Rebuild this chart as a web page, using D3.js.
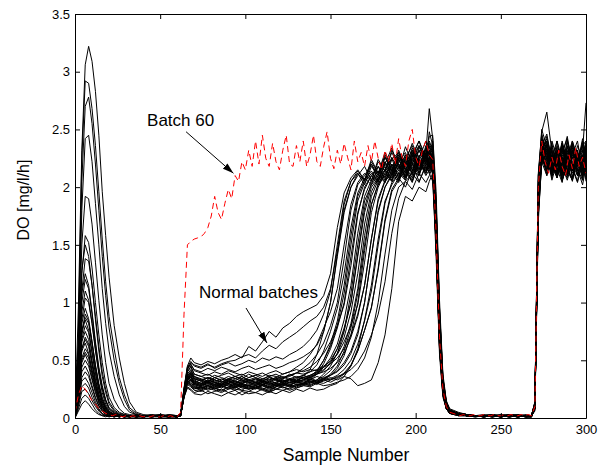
<!DOCTYPE html>
<html><head><meta charset="utf-8">
<script src="https://cdn.jsdelivr.net/npm/d3@7"></script>
<style>
body{margin:0;background:#fff;}
text{font-family:"Liberation Sans",Arial,sans-serif;fill:#000;}
</style>
</head><body>
<svg id="chart" width="599" height="467"></svg>
<script>
// ---------- data (DO values in hundredths of mg/l/h) ----------
const xTicks=[0,50,100,150,200,250,300];
const yTicks=[0,0.5,1,1.5,2,2.5,3,3.5];
const xLabel="Sample Number";
const yLabel="DO [mg/l/h]";

const headSamples=[0,2,4,6,8,10,12,14,16,18,20,23,26,29,32,36,40,45,50,55,60];
const midASamples=[62,64,66,68,70,74,78,82,86,90,94,98,102,106,110,114,118,122,126,130];
const midBSamples=[134,138,142,146,150,154,158,162,166,170,174,178,182,186,190,194,198,202,206];
const dropSamples=[208,210,212,214,216,218,220,225,230,235,240,245,250,255,260,265];
const tailSamples=[268,270,272,274,277,280,283,286,289,292,295,298,300];

const headDO=[
[0,97,232,306,322,309,283,245,196,158,122,80,52,30,14,5,3,2,3,2,1],
[0,75,225,292,290,268,236,196,155,118,88,60,35,20,9,4,2,3,1,2,1],
[0,62,205,270,278,255,220,180,140,106,78,50,30,16,7,3,2,2,1,3,2],
[0,58,180,242,245,222,186,150,112,82,58,36,20,10,5,3,1,2,2,1,2],
[0,50,150,192,190,168,135,102,72,48,30,16,8,4,3,2,1,2,3,2,1],
[0,42,125,158,152,130,100,72,48,30,18,9,5,3,2,3,1,1,2,1,2],
[0,45,128,150,140,115,85,58,36,22,12,6,3,2,2,1,2,2,1,2,1],
[0,38,110,138,136,115,88,62,40,25,14,7,4,3,2,2,1,3,2,1,2],
[0,40,108,125,115,92,66,44,28,16,9,5,3,2,1,2,2,1,2,2,1],
[0,35,92,110,102,82,60,40,25,15,8,4,2,2,1,1,2,2,1,3,2],
[0,30,85,104,100,82,58,38,22,12,6,3,2,2,2,1,1,2,2,1,1],
[0,32,82,95,86,66,45,28,16,9,5,3,2,1,2,2,1,2,1,2,2],
[0,28,75,90,84,66,46,30,18,10,6,3,2,2,1,2,2,1,2,1,1],
[0,30,76,85,76,58,40,25,14,8,4,2,2,1,2,1,2,2,1,2,1],
[0,25,68,80,74,56,38,24,14,8,4,3,2,1,1,2,1,2,2,2,1],
[0,26,66,75,68,50,34,21,12,7,4,2,2,2,1,1,2,1,2,1,2],
[0,22,60,70,64,48,32,20,12,6,3,2,1,2,2,1,2,2,1,1,2],
[0,24,58,65,56,42,28,17,10,5,3,2,2,1,2,2,1,2,1,2,1],
[0,20,52,60,55,40,27,17,10,6,3,2,1,2,1,2,2,1,2,2,1],
[0,20,48,55,48,35,23,14,8,4,2,2,2,1,2,1,1,2,2,1,2],
[0,18,44,50,45,33,22,13,7,4,2,1,2,2,1,2,2,1,1,2,1],
[0,16,40,45,39,28,18,11,6,3,2,2,1,2,2,1,2,2,1,2,2],
[0,14,35,40,36,26,17,10,6,3,2,1,2,1,1,2,1,2,2,1,1],
[0,14,32,35,30,22,14,8,4,2,2,2,1,2,2,1,2,1,2,2,1],
[0,12,27,30,26,18,12,7,4,2,1,2,2,1,2,2,1,2,1,1,2],
[0,10,23,25,21,15,10,6,3,2,2,1,2,2,1,2,2,1,2,2,1],
[0,8,17,20,17,12,7,4,2,2,1,2,1,2,2,1,1,2,2,1,2],
[0,6,12,15,12,8,5,3,2,1,2,1,2,1,2,2,1,2,1,2,2],
[0,22,50,57,52,38,25,15,9,5,3,2,2,1,2,1,2,2,1,2,1],
[0,28,72,87,82,64,44,28,16,9,5,3,1,2,2,1,2,1,2,2,2],
[0,36,100,120,112,90,64,42,26,15,8,4,3,2,2,1,2,2,1,2,1],
[0,24,60,68,62,46,30,18,10,6,3,2,2,1,2,2,1,2,1,2,1]
];
const midADO=[
[2,20,33,36,31,29,32,28,30,33,29,27,31,30,28,32,30,29,33,31],
[3,22,35,33,29,27,25,29,28,26,30,28,25,27,29,26,28,31,27,29],
[2,18,36,40,35,33,31,35,32,30,34,36,32,33,31,35,33,30,34,32],
[3,24,30,28,25,27,24,26,23,27,25,24,28,26,25,23,27,30,28,32],
[2,19,32,38,33,30,28,31,29,32,30,27,29,31,33,30,28,32,29,31],
[3,21,38,42,36,33,35,31,34,32,30,34,33,35,32,31,34,36,33,35],
[2,23,34,31,27,25,28,26,24,27,29,26,25,28,26,24,27,29,31,34],
[2,20,40,45,38,36,34,37,35,33,36,34,38,35,33,37,36,34,38,35],
[3,22,31,34,30,28,31,27,29,30,27,30,28,29,31,28,30,33,31,32],
[2,18,27,25,22,24,21,23,25,22,24,20,23,22,25,23,21,24,22,25],
[2,21,36,35,32,30,33,31,29,33,31,30,32,34,31,33,35,38,40,44],
[3,25,42,48,46,44,47,43,46,48,45,47,50,48,52,50,53,51,55,58],
[2,20,30,33,28,26,29,27,30,28,26,29,27,28,30,27,25,28,29,26],
[2,22,37,39,34,32,35,33,31,34,32,36,33,31,34,33,35,32,34,36],
[3,20,30,29,26,24,27,25,28,26,24,27,25,26,28,25,27,29,28,31],
[2,19,34,37,31,29,32,30,28,31,29,32,30,28,31,29,31,33,30,32],
[3,26,45,52,48,46,49,47,50,52,55,52,62,58,66,75,70,78,82,88],
[2,21,32,30,27,26,28,25,27,29,26,28,26,25,28,26,29,27,25,28],
[2,22,38,41,36,34,32,35,33,36,34,32,35,37,34,36,33,35,37,39],
[3,20,33,35,30,28,31,29,27,30,32,29,28,31,29,27,30,28,31,29],
[3,24,44,49,45,43,46,44,47,49,50,53,55,52,58,63,60,66,70,74],
[2,19,29,27,24,23,26,24,22,25,27,24,23,26,24,22,25,27,24,26],
[2,20,35,38,34,32,30,33,31,34,32,30,33,31,29,32,34,31,33,30],
[2,23,36,33,30,28,31,29,32,30,28,31,33,30,32,29,31,34,36,39],
[3,22,40,44,38,36,38,35,37,39,36,38,35,37,39,36,38,35,37,39],
[2,18,31,33,29,27,30,28,26,29,27,30,28,26,29,31,28,30,27,29],
[3,25,44,46,42,40,43,41,44,42,40,43,45,42,44,46,43,45,48,50],
[2,20,31,29,26,25,28,26,28,25,27,29,26,28,25,27,29,26,28,27],
[2,21,36,39,34,32,35,33,31,34,36,33,31,34,32,35,33,31,34,32],
[2,18,26,24,21,20,23,21,19,22,20,23,21,22,20,23,25,24,26,28],
[3,23,42,47,41,39,37,40,38,41,39,37,40,38,36,39,41,38,40,42],
[2,21,34,36,32,30,33,31,29,32,30,33,31,29,32,30,33,31,34,33]
];
const midBDO=[
[30,32,31,34,38,45,58,78,108,150,185,203,212,205,218,210,225,215,228],
[30,33,38,47,60,78,100,140,178,198,210,202,215,225,208,220,232,218,226],
[35,33,36,34,37,40,46,56,72,100,140,178,200,212,204,222,212,235,220],
[36,42,55,75,100,142,180,200,212,205,220,210,226,214,230,218,208,225,215],
[30,32,29,33,31,34,38,45,58,76,95,130,172,198,208,200,215,222,210],
[34,36,38,41,48,60,78,100,140,178,200,208,218,206,224,215,230,212,222],
[37,40,46,58,75,95,125,165,195,208,202,218,208,226,214,235,220,210,228],
[37,35,38,40,43,48,56,70,88,115,155,188,205,212,220,208,226,240,222],
[33,35,38,44,52,64,85,115,160,192,206,214,204,220,212,228,216,232,220],
[23,26,24,25,28,30,36,45,60,85,115,155,188,202,212,206,222,212,230],
[48,55,64,78,92,112,150,185,204,212,205,222,214,230,218,206,224,215,236],
[62,68,76,90,110,150,188,205,212,202,218,210,228,215,206,225,236,220,232],
[28,27,30,28,29,31,33,36,42,52,70,100,142,180,200,205,198,212,204],
[35,37,39,42,47,56,70,92,125,168,196,208,215,208,222,230,214,225,240],
[33,36,41,50,62,80,108,150,188,204,212,205,222,212,228,214,204,222,214],
[31,33,32,35,37,41,48,58,75,100,140,180,200,210,220,212,232,218,226],
[92,95,98,106,125,165,195,208,215,206,222,212,230,218,225,208,220,232,218],
[29,28,31,33,37,43,54,72,100,145,185,202,210,220,208,226,215,210,230],
[41,44,49,56,66,80,98,132,176,200,210,218,206,224,230,216,222,236,224],
[30,29,31,30,33,35,39,46,58,76,96,128,170,196,206,215,205,222,212],
[79,84,88,96,112,145,185,205,214,206,224,212,220,234,216,228,210,226,232],
[28,30,33,38,45,56,75,108,150,188,202,210,204,218,210,224,212,228,216],
[32,34,31,33,35,33,36,34,28,30,33,48,72,112,170,192,188,200,196],
[43,48,55,65,80,100,138,180,202,210,220,206,226,214,232,218,228,212,234],
[38,40,42,45,49,55,66,80,98,135,178,200,212,218,205,222,238,224,212],
[29,31,30,32,34,37,42,50,64,84,110,150,186,204,212,208,220,205,218],
[53,57,63,75,100,140,178,200,210,218,206,224,214,232,220,210,228,240,226],
[29,31,33,36,41,49,62,82,112,158,192,206,214,205,224,212,230,216,224],
[33,35,32,34,33,36,38,42,48,58,72,90,118,160,190,205,212,204,220],
[30,34,40,50,64,84,115,158,192,206,214,204,220,210,226,216,206,224,212],
[40,42,41,44,47,52,60,72,90,115,155,190,206,214,220,208,226,236,222],
[35,37,40,44,50,60,76,100,142,182,204,212,222,210,228,218,234,220,230]
];
const dropDO=[
[222,215,160,70,25,10,5,3,2,2,1,2,3,2,1,2],
[218,226,175,85,30,12,6,4,3,2,2,3,1,2,2,1],
[230,218,150,60,20,8,4,3,2,1,2,2,1,3,2,2],
[226,210,140,55,18,8,4,2,2,2,1,2,2,1,2,3],
[215,222,165,75,28,12,5,3,2,2,2,1,2,2,3,1],
[232,225,170,80,28,11,6,4,3,2,1,2,2,3,2,2],
[218,212,155,65,22,9,4,3,2,2,2,1,3,2,1,2],
[238,230,180,90,32,13,6,4,2,2,3,2,1,2,2,1],
[225,218,160,70,24,9,5,3,2,1,2,2,2,1,2,2],
[212,220,150,62,22,9,4,2,2,2,1,2,2,2,1,2],
[220,228,170,78,27,11,5,3,2,2,2,3,2,1,2,1],
[228,240,185,95,35,14,7,4,3,2,2,2,1,2,3,2],
[210,218,160,72,25,10,5,3,2,2,1,2,2,2,1,2],
[235,220,165,72,26,10,5,3,2,2,2,1,2,3,2,1],
[222,214,150,60,20,8,4,3,2,2,2,2,1,2,2,2],
[240,232,178,85,30,12,6,3,2,2,2,2,2,1,2,2],
[226,236,182,92,34,14,7,4,3,2,2,2,1,3,2,2],
[216,225,160,70,24,10,5,3,2,2,1,2,2,2,2,1],
[232,222,168,76,27,11,6,3,2,2,2,2,1,2,2,2],
[225,230,172,80,28,11,5,3,2,2,2,1,2,2,1,2],
[236,228,175,85,30,12,6,4,2,2,2,2,2,1,2,2],
[214,220,158,68,23,9,4,3,2,1,2,2,2,2,1,2],
[205,212,150,65,22,9,4,3,2,2,2,1,2,2,2,1],
[228,218,162,70,24,10,5,3,2,2,1,2,2,1,2,2],
[222,232,178,86,31,12,6,4,3,2,2,2,1,2,2,2],
[212,205,148,60,20,8,4,2,2,2,2,1,2,2,1,2],
[244,245,196,102,38,15,8,5,3,2,2,3,2,2,1,2],
[218,226,162,72,25,10,5,3,2,2,2,2,1,2,2,1],
[218,214,155,66,23,9,5,3,2,2,1,2,2,2,2,1],
[220,214,152,62,21,8,4,3,2,2,2,2,2,1,2,2],
[248,236,185,92,33,13,7,4,3,2,2,2,2,2,1,2],
[268,242,188,96,35,14,7,4,3,2,2,2,1,2,2,2]
];
const tailDO=[
[2,8,185,232,225,210,228,205,235,215,222,208,230],
[1,12,200,240,218,228,212,238,220,205,225,215,212],
[2,6,170,225,240,218,208,226,214,232,210,228,218],
[2,10,190,228,212,235,220,206,218,238,212,224,205],
[1,9,195,220,236,215,225,210,230,218,205,232,222],
[2,11,182,245,222,212,230,218,240,208,226,214,236],
[2,7,178,235,228,206,222,235,212,228,218,240,226],
[2,13,205,228,215,240,225,212,232,208,222,236,240],
[1,8,188,230,244,220,210,228,216,206,230,212,224],
[2,9,175,222,230,208,232,214,224,236,210,220,215],
[2,10,192,236,218,226,240,216,208,225,232,206,228],
[2,14,210,242,232,214,226,208,220,240,226,210,232],
[1,10,180,226,214,232,208,222,210,226,216,202,218],
[2,12,196,238,226,218,212,230,242,218,228,216,226],
[2,8,184,232,240,216,224,212,236,220,210,226,212],
[2,11,190,228,210,232,218,240,222,214,236,224,218],
[2,13,205,250,235,222,210,228,244,218,230,220,238],
[1,9,186,224,236,212,226,206,218,232,214,228,210],
[2,10,194,234,220,238,214,226,210,230,222,238,214],
[2,8,180,228,216,224,208,234,220,212,228,218,208],
[2,12,198,238,224,216,236,222,212,234,218,228,222],
[2,9,182,226,238,210,220,232,214,206,224,236,220],
[1,10,188,222,210,228,216,204,226,214,232,210,224],
[2,11,192,240,228,215,232,224,210,238,216,206,232],
[2,12,200,232,242,226,212,236,220,228,240,214,230],
[2,8,176,220,232,212,226,218,206,222,230,212,220],
[2,14,210,246,230,218,240,224,212,232,220,242,228],
[2,9,186,232,218,226,210,236,222,214,226,218,234],
[1,9,184,226,214,222,234,210,226,216,204,222,240],
[2,8,180,225,236,212,222,238,214,208,226,232,214],
[2,12,202,236,246,222,230,214,240,226,218,232,273],
[2,13,212,248,265,230,218,236,226,240,222,236,228]
];
// Batch 60 (red dashed), one value every 2 samples from 0 to 300
const batch60DO=[
5,20,28,25,20,15,12,8,6,4,3,2,3,2,1,2,1,2,1,2,1,2,1,2,1,1,2,1,2,1,1,
5,90,150,153,155,156,157,160,165,175,192,178,172,186,198,190,210,205,222,215,
232,218,240,220,245,225,218,238,222,215,
232,245,220,218,236,222,240,218,228,245,
222,218,235,248,225,216,232,220,238,226,
215,240,222,230,218,236,222,240,225,215,
232,222,238,220,242,226,218,240,250,226,
218,232,240,228,224,
160,70,25,10,5,
4,3,2,3,2,2,3,2,2,3,2,2,3,2,2,3,2,3,2,2,3,2,3,2,
10,200,240,222,212,226,215,232,218,210,228,216,234,218,226,212
];
const batch60Samples=d3.range(0,301,2);

// annotations (data coordinates)
const annBatch60={text:"Batch 60",tx:42.3,ty:2.53,from:[65.2,2.48],to:[93,2.12]};
const annNormal={text:"Normal batches",tx:72.8,ty:1.04,from:[100.4,0.953],to:[112.7,0.65]};

// ---------- chart ----------
const W=599,H=467,m={l:75,r:13,t:14,b:49};
const svg=d3.select("#chart");
const x=d3.scaleLinear().domain([0,300]).range([m.l,W-m.r]);
const y=d3.scaleLinear().domain([0,3.5]).range([H-m.b,m.t]);

svg.append("defs").append("clipPath").attr("id","clip")
  .append("rect").attr("x",m.l).attr("y",m.t).attr("width",W-m.l-m.r).attr("height",H-m.t-m.b);
const defs=svg.select("defs");
defs.append("marker").attr("id","arrow").attr("markerUnits","userSpaceOnUse")
  .attr("markerWidth",12).attr("markerHeight",8).attr("refX",11).attr("refY",4)
  .attr("orient","auto")
  .append("path").attr("d","M0,0.5 L11,4 L0,7.5 Z").attr("fill","#000");

const segs=[[headSamples,headDO],[midASamples,midADO],[midBSamples,midBDO],[dropSamples,dropDO],[tailSamples,tailDO]];
const batches=headDO.map((_,i)=>{
  const pts=[];
  segs.forEach(([xs,rows])=>{
    const r=rows[i];
    for(let k=0;k<Math.min(xs.length,r.length);k++) pts.push([xs[k],r[k]/100]);
  });
  return pts;
});
const red=batch60Samples.slice(0,batch60DO.length).map((s,i)=>[s,batch60DO[i]/100]);

const line=d3.line().x(d=>x(d[0])).y(d=>y(d[1]));
const g=svg.append("g").attr("clip-path","url(#clip)");
g.selectAll("path.batch").data(batches).join("path").attr("class","batch")
  .attr("d",line).attr("fill","none").attr("stroke","#000").attr("stroke-width",1);
g.append("path").datum(red).attr("d",line).attr("fill","none")
  .attr("stroke","#ff0000").attr("stroke-width",1).attr("stroke-dasharray","6,4");

// axes (box with inward ticks)
const fmt=d=>String(d);
const ax=[
  svg.append("g").attr("transform",`translate(0,${H-m.b})`).call(d3.axisBottom(x).tickValues(xTicks).tickFormat(fmt).tickSize(-5).tickSizeOuter(0).tickPadding(7)),
  svg.append("g").attr("transform",`translate(${m.l},0)`).call(d3.axisLeft(y).tickValues(yTicks).tickFormat(fmt).tickSize(-5).tickSizeOuter(0).tickPadding(5)),
  svg.append("g").attr("transform",`translate(0,${m.t})`).call(d3.axisTop(x).tickValues(xTicks).tickFormat("").tickSize(-5).tickSizeOuter(0)),
  svg.append("g").attr("transform",`translate(${W-m.r},0)`).call(d3.axisRight(y).tickValues(yTicks).tickFormat("").tickSize(-5).tickSizeOuter(0))
];
ax.forEach(a=>{
  a.selectAll("path.domain").attr("stroke","#000").attr("stroke-width",1);
  a.selectAll(".tick line").attr("stroke","#000");
  a.selectAll("text").attr("font-size","13px").attr("font-family",'"Liberation Sans",Arial,sans-serif').attr("fill","#000");
});

// axis labels
svg.append("text").attr("x",346).attr("y",461).attr("text-anchor","middle")
  .attr("font-size","17.5px").text(xLabel);
svg.append("text").attr("transform","translate(29,200) rotate(-90)").attr("text-anchor","middle")
  .attr("font-size","16px").text(yLabel);

// annotations
[annBatch60,annNormal].forEach(a=>{
  svg.append("text").attr("x",x(a.tx)).attr("y",y(a.ty)).attr("font-size","17px").text(a.text);
  svg.append("line").attr("x1",x(a.from[0])).attr("y1",y(a.from[1]))
    .attr("x2",x(a.to[0])).attr("y2",y(a.to[1]))
    .attr("stroke","#000").attr("stroke-width",1).attr("marker-end","url(#arrow)");
});
</script>
</body></html>
